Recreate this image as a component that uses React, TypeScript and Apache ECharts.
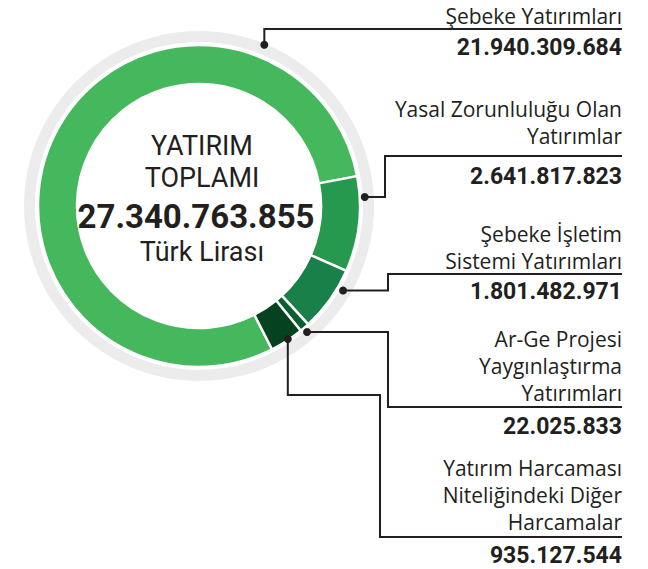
import React, { useEffect, useRef } from "react";
import * as echarts from "echarts";

// ---- data ----
const categories = [
  "Şebeke Yatırımları",
  "Yasal Zorunluluğu Olan\nYatırımlar",
  "Şebeke İşletim\nSistemi Yatırımları",
  "Ar-Ge Projesi\nYaygınlaştırma\nYatırımları",
  "Yatırım Harcaması\nNiteliğindeki Diğer\nHarcamalar",
];
const values = [21940309684, 2641817823, 1801482971, 22025833, 935127544];
const colors = ["#45b85d", "#26994f", "#19804a", "#0b5e2e", "#054220"];
const centerTitle = ["YATIRIM", "TOPLAMI"];
const centerUnit = "Türk Lirası";

// ---- layout ----
const W = 648;
const H = 569;
const CX = 199;
const CY = 206;
const RIGHT = 622;
const INK = "#231f20";
const FONT = "Roboto, 'Noto Sans', sans-serif";
const LABEL_FONT = "'Open Sans', 'Noto Sans', sans-serif";

const fmt = (n: number) => String(n).replace(/\B(?=(\d{3})+(?!\d))/g, ".");

type Pt = [number, number];
const leaders: { frac: number; r: number; route: (p: Pt) => Pt[]; labelY: number; valueY: number }[] = [
  { frac: 0.8, r: 174, route: (p) => [p, [p[0], 29], [RIGHT, 29]], labelY: 16, valueY: 47 },
  { frac: 0.22, r: 166, route: (p) => [p, [385, p[1]], [385, 156], [RIGHT, 156]], labelY: 122, valueY: 176 },
  { frac: 0.28, r: 167, route: (p) => [p, [388, p[1]], [388, 274], [RIGHT, 274]], labelY: 247, valueY: 291 },
  { frac: 0.6, r: 166, route: (p) => [p, [388, p[1]], [388, 407], [RIGHT, 407]], labelY: 366, valueY: 426 },
  { frac: 0.45, r: 160, route: (p) => [p, [p[0], 395], [380, 395], [380, 537], [RIGHT, 537]], labelY: 495, valueY: 555 },
];

export default function App() {
  const ref = useRef<HTMLDivElement>(null);
  useEffect(() => {
    if (!ref.current) return;
    const chart = echarts.init(ref.current, undefined, { renderer: "svg", width: W, height: H });
    const total = values.reduce((a, b) => a + b, 0);
    chart.setOption({
      animation: false,
      backgroundColor: "#ffffff",
      series: [
        {
          type: "pie",
          silent: true,
          center: [CX, CY],
          radius: [164, 175],
          label: { show: false },
          labelLine: { show: false },
          itemStyle: { color: "#ececec" },
          data: [{ value: 1, name: "ring" }],
          z: 1,
        },
        {
          type: "pie",
          silent: true,
          center: [CX, CY],
          radius: [122, 161],
          startAngle: 297,
          minAngle: 3.5,
          clockwise: true,
          label: { show: false },
          labelLine: { show: false },
          itemStyle: { borderColor: "#ffffff", borderWidth: 2.5 },
          data: values.map((v, i) => ({ value: v, name: categories[i], itemStyle: { color: colors[i] } })),
          z: 2,
        },
      ],
    });

    const graphics: any[] = [];
    let data: any = null;
    try {
      data = (chart as any).getModel().getSeriesByIndex(1).getData();
    } catch (e) {
      data = null;
    }
    values.forEach((v, i) => {
      const L = leaders[i];
      let p: Pt = [CX + L.r, CY];
      if (data) {
        const lay = data.getItemLayout(i);
        const a = lay.startAngle + L.frac * (lay.endAngle - lay.startAngle);
        p = [lay.cx + L.r * Math.cos(a), lay.cy + L.r * Math.sin(a)];
      }
      graphics.push({
        type: "polyline",
        z: 10,
        shape: { points: L.route(p) },
        style: { stroke: INK, lineWidth: 2, fill: null },
      });
      graphics.push({
        type: "circle",
        z: 11,
        shape: { cx: p[0], cy: p[1], r: 4 },
        style: { fill: INK },
      });
      graphics.push({
        type: "text",
        z: 11,
        x: RIGHT,
        y: L.labelY,
        style: {
          text: categories[i],
          fill: INK,
          fontFamily: LABEL_FONT,
          fontSize: 21,
          lineHeight: 27,
          align: "right",
          verticalAlign: "middle",
          textAlign: "right",
          textVerticalAlign: "middle",
        },
      });
      graphics.push({
        type: "text",
        z: 11,
        x: RIGHT,
        y: L.valueY,
        style: {
          text: fmt(v),
          fill: INK,
          fontFamily: FONT,
          fontSize: 23,
          fontWeight: "bold",
          align: "right",
          verticalAlign: "middle",
          textAlign: "right",
          textVerticalAlign: "middle",
        },
      });
    });

    const centerTexts: [string, number, number, number, string][] = [
      [centerTitle[0], 202, 146, 27, "normal"],
      [centerTitle[1], 202, 178, 27, "normal"],
      [fmt(total), 196, 216, 33, "bold"],
      [centerUnit, 202, 252, 27, "normal"],
    ];
    centerTexts.forEach(([t, x, y, fs, fw]) => {
      graphics.push({
        type: "text",
        z: 11,
        x,
        y,
        style: {
          text: t,
          fill: INK,
          fontFamily: FONT,
          fontSize: fs,
          fontWeight: fw,
          align: "center",
          verticalAlign: "middle",
          textAlign: "center",
          textVerticalAlign: "middle",
        },
      });
    });

    chart.setOption({ graphic: { elements: graphics } });
    return () => chart.dispose();
  }, []);
  return (
    <div
      ref={ref}
      style={{ position: "absolute", left: 0, top: 0, width: W, height: H, background: "#fff" }}
    />
  );
}
